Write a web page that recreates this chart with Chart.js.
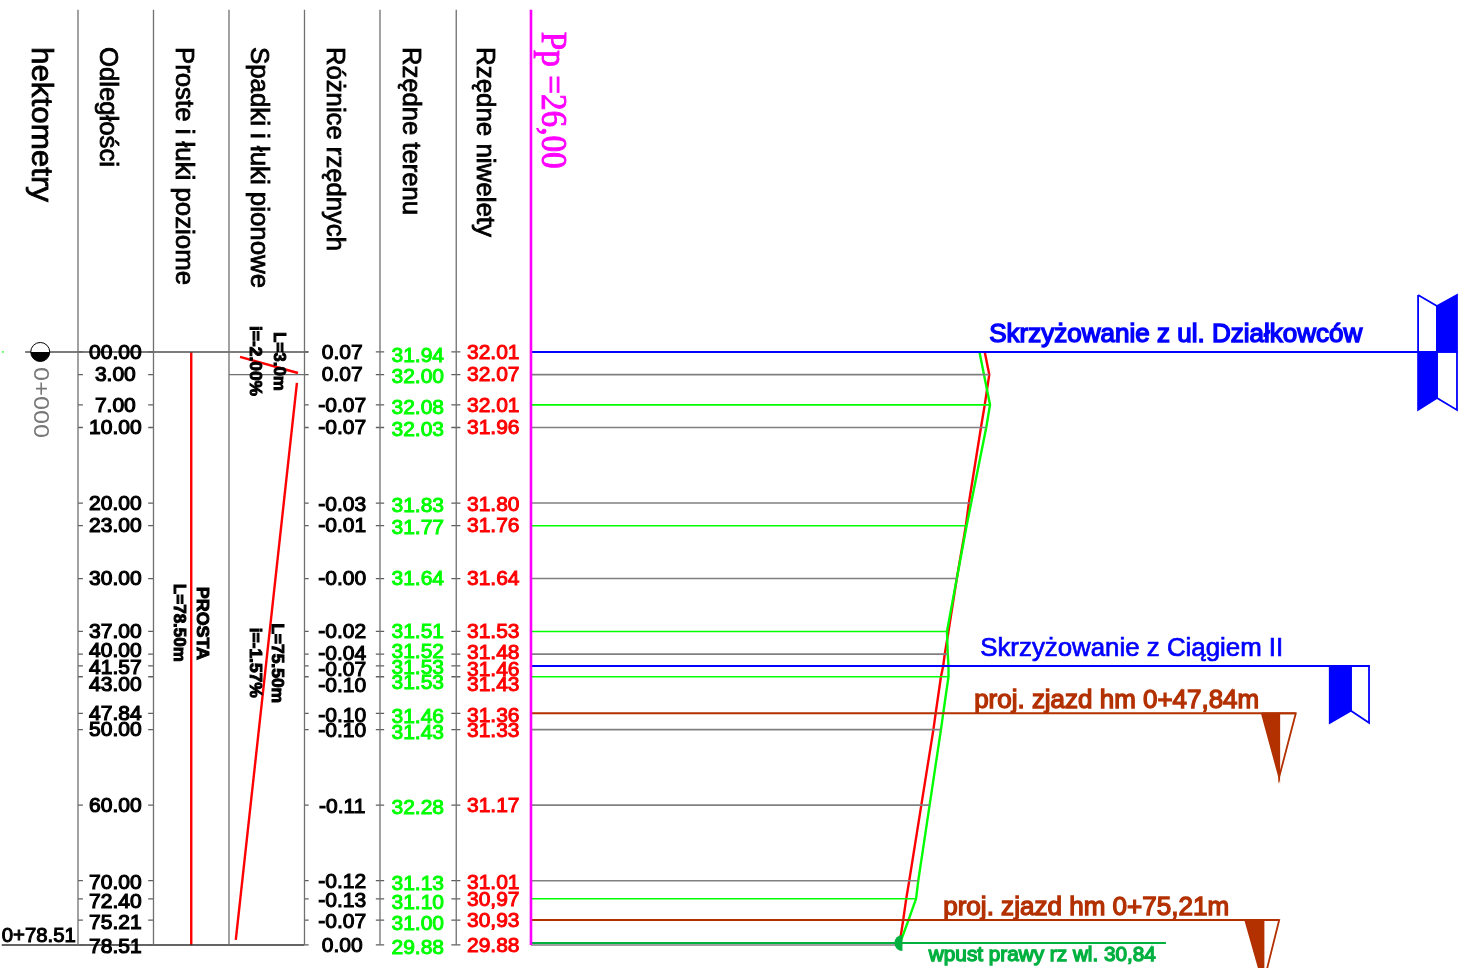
<!DOCTYPE html>
<html lang="pl">
<head>
<meta charset="utf-8">
<title>Profil podłużny</title>
<script src="https://cdn.jsdelivr.net/npm/chart.js@4"></script>
<style>
  html, body { margin: 0; padding: 0; background: #fff; }
  canvas { display: block; }
</style>
</head>
<body>
<canvas id="profile" width="1472" height="968"></canvas>
<script>
// === Road long section: x axis is elevation (1 m per table column), y axis is chainage ===

const chainage = [0, 3, 7, 10, 20, 23, 30, 37, 40, 41.57, 43, 47.84, 50, 60, 70, 72.4, 75.21, 78.51];
const grade = [32.01, 32.07, 32.01, 31.96, 31.80, 31.76, 31.64, 31.53, 31.48, 31.46, 31.43, 31.36, 31.33, 31.17, 31.01, 30.97, 30.93, 30.88];
const terrain = [31.94, 32.00, 32.08, 32.03, 31.83, 31.77, 31.64, 31.51, 31.52, 31.53, 31.53, 31.46, 31.43, 31.28, 31.13, 31.10, 31.00, 30.88];

// table texts, as printed on the drawing
const distLabels = ["00.00", "3.00", "7.00", "10.00", "20.00", "23.00", "30.00", "37.00", "40.00", "41.57", "43.00", "47.84", "50.00", "60.00", "70.00", "72.40", "75.21", "78.51"];
const diffLabels = ["0.07", "0.07", "-0.07", "-0.07", "-0.03", "-0.01", "-0.00", "-0.02", "-0.04", "-0.07", "-0.10", "-0.10", "-0.10", "-0.11", "-0.12", "-0.13", "-0.07", "0.00"];
const terrainLabels = ["31.94", "32.00", "32.08", "32.03", "31.83", "31.77", "31.64", "31.51", "31.52", "31.53", "31.53", "31.46", "31.43", "32.28", "31.13", "31.10", "31.00", "29.88"];
const gradeLabels = ["32.01", "32.07", "32.01", "31.96", "31.80", "31.76", "31.64", "31.53", "31.48", "31.46", "31.43", "31.36", "31.33", "31.17", "31.01", "30,97", "30,93", "29.88"];

// labels were nudged by hand on the drawing so they don't collide (px)
const distShift = [1, 1, 1, 1, 1, 1, 1, 1, -3, 2, 8, 1, 1, 1, 3, 3, 3, 2];
const diffShift = [1, 1, 1, 1, 2, 1, 1, 1, 0, 4, 9, 3, 2, 2, 2, 2, 2, 1];
const terrainShift = [4, 3, 3, 3, 3, 3, 1, 1, -2, 2, 6, 4, 4, 3, 4, 4, 4, 3];
const gradeShift = [1, 1, 1, 1, 2, 1, 1, 1, -1, 4, 8, 3, 2, 1, 3, 1, 1, 1];

const stationColors = ["#0000ff", "#808080", "#00ff00", "#808080", "#808080", "#00ff00", "#808080", "#00ff00", "#808080", "#0000ff", "#00ff00", "#b33000", "#808080", "#808080", "#808080", "#00ff00", "#b33000", "#808080"];

// long station lines that carry a sign: chainage, elevation where they stop
const signLineChainage = [0, 41.57, 47.84, 75.21, 78.25];
const signLineEnd = [37.75, 37.1, 36.13, 35.91, 34.41];
const signLineColors = ["#0000ff", "#0000ff", "#b33000", "#b33000", "#00b140"];

const columnLines = [20, 21, 22, 23, 24, 25.01];
const planLineX = 21.5;
const slopeShort = [{ x: 22.146, y: 0.66 }, { x: 22.914, y: 2.78 }];
const slopeLong = [{ x: 22.9, y: 4.1 }, { x: 22.09, y: 77.85 }];

const BLUE = "#0000ff", BROWN = "#b33000", DARKGREEN = "#00b140";

// sign shapes: [points, filled?, colour]
const signShapes = [
  [[[37.75, -7.55], [38, -6.09], [38, 0], [37.75, 0]], false, BLUE],
  [[[38, -6.09], [38.265, -7.55], [38.265, 0], [38, 0]], true, BLUE],
  [[[37.75, 0], [38, 0], [38, 6.09], [37.75, 7.68]], true, BLUE],
  [[[38, 0], [38.265, 0], [38.265, 7.68], [38, 6.09]], false, BLUE],
  [[[36.58, 41.57], [36.86, 41.57], [36.86, 47.5], [36.58, 49.1]], true, BLUE],
  [[[36.86, 41.57], [37.1, 41.57], [37.1, 49.1], [36.86, 47.5]], false, BLUE],
  [[[35.68, 47.84], [35.91, 47.84], [35.91, 56.27]], true, BROWN],
  [[[35.91, 47.84], [36.13, 47.84], [35.91, 56.27]], false, BROWN],
  [[[35.46, 75.21], [35.7, 75.21], [35.7, 83.64]], true, BROWN],
  [[[35.7, 75.21], [35.91, 75.21], [35.7, 83.64]], false, BROWN]
];

// rotated column headers: text, x, pixel length, font size
const headers = [
  ["hektometry", 19.5, 155, 29],
  ["Odległości", 20.385, 120, 25],
  ["Proste i łuki poziome", 21.39, 238, 25],
  ["Spadki i łuki pionowe", 22.38, 241, 25],
  ["Różnice rzędnych", 23.39, 204, 25],
  ["Rzędne terenu", 24.39, 168, 25],
  ["Rzędne niwelety", 25.37, 190, 25]
];

// small rotated notes in the plan and slope columns: text, x, chainage at start, pixel length
const notes = [
  ["L=3.0m", 22.66, -2.65, 59],
  ["i=-2.00%", 22.34, -3.44, 70],
  ["PROSTA", 21.64, 31.1, 73],
  ["L=78.50m", 21.34, 30.7, 78],
  ["L=75.50m", 22.63, 35.9, 80],
  ["i=-1.57%", 22.34, 36.5, 70]
];

// annotations on the profile: text, x, chainage, pixel length, size, colour, stroke
const annotations = [
  ["Skrzyżowanie z ul. Działkowców", 32.07, -2.25, 373, 25, BLUE, 1.4],
  ["Skrzyżowanie z Ciągiem II", 31.95, 39.3, 303, 25, BLUE, 0.7],
  ["proj. zjazd hm 0+47,84m", 31.87, 46.25, 285, 25, BROWN, 1.3],
  ["proj. zjazd hm 0+75,21m", 31.46, 73.65, 286, 25, BROWN, 1.3],
  ["wpust prawy rz wl. 30,84", 31.27, 79.95, 227, 20, DARKGREEN, 1.3]
];

function seg(x0, x1, y) {
  return [{ x: x0, y: y }, { x: x1, y: y }];
}

function lineSet(data, color, width) {
  return { data: data, borderColor: color, backgroundColor: color, borderWidth: width, showLine: true, pointRadius: 0, fill: false, tension: 0 };
}

const datasets = [];

// table frame
columnLines.forEach(c => {
  datasets.push(lineSet([{ x: c, y: -45.3 }, { x: c, y: 78.51 }], "#707070", 1.3));
});
datasets.push(lineSet([{ x: 26, y: -45.3 }, { x: 26, y: 78.51 }], "#ff00ff", 2.6));

// small ticks on the table columns, one dataset with gaps
const tickSpans = [[20, 20.065], [20.93, 21], [23, 23.055], [23.945, 24.055], [24.945, 25.065]];
const tickData = [];
chainage.forEach(d => {
  tickSpans.forEach(s => {
    tickData.push({ x: s[0], y: d }, { x: s[1], y: d }, { x: NaN, y: NaN });
  });
});
datasets.push(lineSet(tickData, "#606060", 1.3));

datasets.push(lineSet(seg(19.3, 23.05, 0), "#505050", 1.5));
datasets.push(lineSet(seg(22, 23, 3), "#707070", 1.3));
datasets.push(lineSet(seg(18.99, 23, 78.51), "#303030", 1.5));
datasets.push(lineSet(seg(18.99, 19.02, 0), "#00ff00", 1));

// station lines up to the higher of the two profiles
chainage.forEach((d, i) => {
  if (stationColors[i] === "#0000ff" || stationColors[i] === "#b33000") return;
  datasets.push(lineSet(seg(26, Math.max(grade[i], terrain[i]), d), stationColors[i], 1.6));
});

signLineChainage.forEach((d, i) => {
  datasets.push(lineSet(seg(26, signLineEnd[i], d), signLineColors[i], 1.9));
});

// signs
signShapes.forEach(s => {
  const pts = s[0].map(p => ({ x: p[0], y: p[1] }));
  pts.push({ x: s[0][0][0], y: s[0][0][1] });
  const ds = lineSet(pts, s[2], 1.8);
  if (s[1]) ds.fill = "shape";
  datasets.push(ds);
});

// plan and slope columns
datasets.push(lineSet([{ x: planLineX, y: 0 }, { x: planLineX, y: 78.51 }], "#ff0000", 2.4));
datasets.push(lineSet(slopeShort, "#ff0000", 2.4));
datasets.push(lineSet(slopeLong, "#ff0000", 2.4));

// the two profiles
datasets.push(lineSet(chainage.map((d, i) => ({ x: terrain[i], y: d })), "#00ff00", 2.4));
datasets.push(lineSet(chainage.map((d, i) => ({ x: grade[i], y: d })), "#ff0000", 2.4));

function putText(ctx, str, px, py, o) {
  ctx.save();
  ctx.translate(px, py);
  if (o.rot) ctx.rotate(Math.PI / 2);
  ctx.font = (o.weight || "") + " " + o.size + "px " + (o.family || '"Liberation Sans"');
  ctx.textBaseline = "middle";
  ctx.textAlign = o.align || "left";
  if (o.len) ctx.scale(o.len / ctx.measureText(str).width, 1);
  ctx.fillStyle = o.color || "#000";
  ctx.fillText(str, 0, 0);
  if (o.stroke) {
    ctx.strokeStyle = o.color || "#000";
    ctx.lineWidth = o.stroke;
    ctx.strokeText(str, 0, 0);
  }
  ctx.restore();
}

const drawingText = {
  id: "drawingText",
  afterDatasetsDraw(chart) {
    const ctx = chart.ctx;
    const xs = chart.scales.x, ys = chart.scales.y;
    const X = v => xs.getPixelForValue(v);
    const Y = v => ys.getPixelForValue(v);

    headers.forEach(h => {
      putText(ctx, h[0], X(h[1]), Y(-40.38), { rot: true, len: h[2], size: h[3], stroke: 0.8 });
    });
    putText(ctx, "Pp =26,00", X(26.27), Y(-42.4), { rot: true, len: 137, size: 36, family: '"Liberation Serif"', color: "#ff00ff", stroke: 0.9 });
    putText(ctx, "0+000", X(19.5), Y(2), { rot: true, len: 71, size: 22, color: "#777" });

    chainage.forEach((d, i) => {
      putText(ctx, distLabels[i], X(20.495), Y(d) + distShift[i], { size: 21, align: "center", stroke: 1.2 });
      putText(ctx, diffLabels[i], X(23.5), Y(d) + diffShift[i], { size: 21, align: "center", stroke: 1.1 });
      putText(ctx, terrainLabels[i], X(24.5), Y(d) + terrainShift[i], { size: 21, align: "center", color: "#00ff00", stroke: 1 });
      putText(ctx, gradeLabels[i], X(25.5), Y(d) + gradeShift[i], { size: 21, align: "center", color: "#ff0000", stroke: 1 });
    });
    putText(ctx, "0+78.51", X(18.99), Y(77.4), { size: 21, len: 74, stroke: 1.1 });

    notes.forEach(n => {
      putText(ctx, n[0], X(n[1]), Y(n[2]), { rot: true, len: n[3], size: 17, weight: "bold", stroke: 1 });
    });

    annotations.forEach(a => {
      putText(ctx, a[0], X(a[1]), Y(a[2]), { len: a[3], size: a[4], color: a[5], stroke: a[6] });
    });

    // hectometre mark, half filled circle
    ctx.beginPath();
    ctx.arc(X(19.5), Y(0), 9.5, 0, Math.PI * 2);
    ctx.fillStyle = "#fff";
    ctx.fill();
    ctx.strokeStyle = "#000";
    ctx.lineWidth = 1;
    ctx.stroke();
    ctx.beginPath();
    ctx.arc(X(19.5), Y(0), 9.5, 0, Math.PI);
    ctx.closePath();
    ctx.fillStyle = "#000";
    ctx.fill();

    // inlet mark
    ctx.beginPath();
    ctx.arc(X(30.92), Y(78.25), 8, Math.PI / 2, Math.PI * 1.5);
    ctx.closePath();
    ctx.fillStyle = DARKGREEN;
    ctx.fill();
  }
};

new Chart(document.getElementById("profile"), {
  type: "scatter",
  data: { datasets: datasets },
  plugins: [drawingText],
  options: {
    responsive: false,
    animation: false,
    layout: { padding: 0 },
    plugins: { legend: { display: false }, tooltip: { enabled: false } },
    scales: {
      x: { type: "linear", display: false, min: 18.967, max: 38.464 },
      y: { type: "linear", display: false, reverse: true, min: -46.6, max: 81.56 }
    }
  }
});
</script>
</body>
</html>
